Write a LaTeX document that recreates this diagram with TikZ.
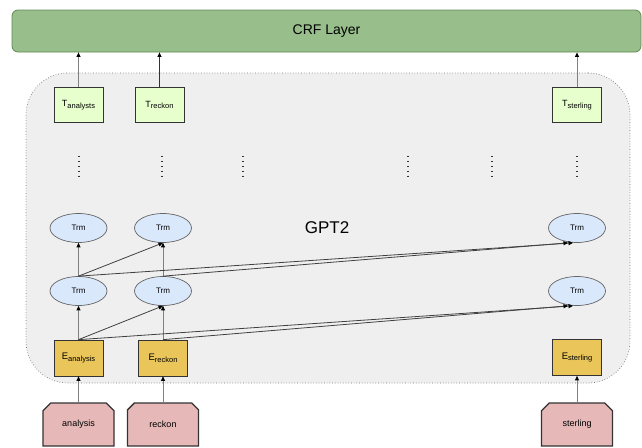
\documentclass[tikz,border=0pt]{standalone}
\usepackage{fontspec}
\setmainfont{Liberation Sans}
\usetikzlibrary{positioning,arrows.meta,shapes.misc,shapes.geometric}
\definecolor{crfgreen}{HTML}{97BE8B}
\definecolor{crfline}{HTML}{5F8A52}
\definecolor{gptgray}{HTML}{EFEFEF}
\definecolor{outgreen}{HTML}{E6FFCC}
\definecolor{trmblue}{HTML}{DAE8FC}
\definecolor{embyellow}{HTML}{EAC55A}
\definecolor{tokpink}{HTML}{E6B9B8}
\newcommand{\sub}[1]{\raisebox{-1.6pt}{\fontsize{7.5}{8}\selectfont #1}}

\begin{document}
\begin{tikzpicture}[x=1pt, y=-1pt,
  crf/.style = {draw=crfline, fill=crfgreen, rounded corners=6pt, line width=0.8pt,
                minimum width=629pt, minimum height=42pt, font=\fontsize{14}{16}\selectfont},
  gptbox/.style = {draw=black!55, fill=gptgray, line width=0.7pt, dotted, rounded corners=42pt,
                   minimum width=604pt, minimum height=310pt},
  outbox/.style = {draw=black!80, fill=outgreen, line width=0.7pt, minimum width=49pt,
                   minimum height=35pt, inner sep=0pt, font=\fontsize{9}{10}\selectfont},
  trm/.style = {ellipse, draw=black!60, fill=trmblue, line width=0.7pt, minimum width=57pt,
                minimum height=29pt, inner sep=0pt, font=\fontsize{8}{10}\selectfont},
  embbox/.style = {draw=black!80, fill=embyellow, line width=0.7pt, minimum width=49pt,
                   minimum height=36pt, inner sep=0pt, font=\fontsize{9.5}{11}\selectfont},
  tok/.style = {chamfered rectangle, chamfered rectangle corners={north west,north east},
                chamfered rectangle xsep=13pt, draw=black!80, fill=tokpink, line width=1.3pt,
                minimum width=71pt, minimum height=43pt, inner sep=0pt,
                font=\fontsize{9}{11}\selectfont},
  up/.style = {draw=black!50, line width=0.9pt, -{Triangle[length=4.5pt,width=4pt,color=black]}},
  cross/.style = {draw=black!75, line width=0.8pt, -{Triangle[length=4.5pt,width=4pt,color=black]}},
  vdots/.style = {draw=black!80, line width=1.3pt, dash pattern=on 1.3pt off 3.6pt}]
\useasboundingbox (0,0) rectangle (642,447);
\node[gptbox] (gpt) at (328,228) {};
\node[font=\fontsize{17}{20}\selectfont] (gptname) at (327,228) {GPT2};
\node[crf] (crf) at (326.5,31) {CRF Layer};

\node[outbox] (ta) at (78.5,105) {T\sub{analysts}};
\node[outbox] (tr) at (159.5,105) {T\sub{reckon}};
\node[outbox] (ts) at (577,105) {T\sub{sterling}};

\node[trm] (ha2) at (78.5,228) {Trm};
\node[trm] (hr2) at (163,228) {Trm};
\node[trm] (hs2) at (577,228) {Trm};
\node[trm] (ha1) at (78.5,291) {Trm};
\node[trm] (hr1) at (163,291) {Trm};
\node[trm] (hs1) at (577,291) {Trm};

\node[embbox] (ea) at (78.5,358) {E\sub{analysis}};
\node[embbox] (er) at (163,358) {E\sub{reckon}};
\node[embbox] (es) at (577,357.5) {E\sub{sterling}};

\node[tok] (wa) at (78.5,424.5) {analysis};
\node[tok] (wr) at (163,424.5) {reckon};
\node[tok] (ws) at (577,424.5) {sterling};

\draw[vdots] (79,156) -- (79,180);
\draw[vdots] (162,156) -- (162,180);
\draw[vdots] (243,156) -- (243,180);
\draw[vdots] (408,156) -- (408,180);
\draw[vdots] (492,156) -- (492,180);
\draw[vdots] (577,156) -- (577,180);

\draw[up] (ta.north) -- (ta.north |- crf.south);
\draw[up, draw=black!80] (tr.north) -- (tr.north |- crf.south);
\draw[up] (ts.north) -- (ts.north |- crf.south);

\draw[up] (wa.north) -- (ea.south);
\draw[up] (wr.north) -- (er.south);
\draw[up] (ws.north) -- (es.south);

\draw[up] (ea.north) -- (ha1.south);
\draw[up] (er.north) -- (hr1.south);
\draw[up] (ha1.north) -- (ha2.south);
\draw[up] (hr1.north) -- (hr2.south);

\draw[cross] (ea.north) -- (hr1.south);
\draw[cross] (ea.north) -- ([xshift=-4pt]hs1.south);
\draw[cross] (er.north) -- ([xshift=-9pt]hs1.south);
\draw[cross] (ha1.north) -- (hr2.south);
\draw[cross] (ha1.north) -- ([xshift=-4pt]hs2.south);
\draw[cross] (hr1.north) -- ([xshift=-9pt]hs2.south);
\end{tikzpicture}
\end{document}
